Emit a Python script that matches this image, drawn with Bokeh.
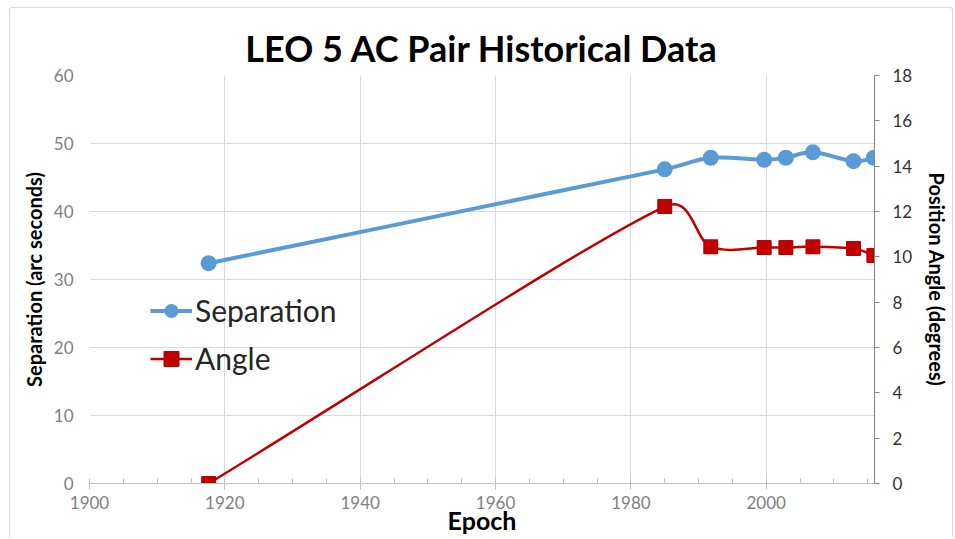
import math
from bokeh.plotting import figure
from bokeh.models import Range1d, LinearAxis, SingleIntervalTicker, Legend, LegendItem
from bokeh.embed import file_html
from bokeh.resources import INLINE

# ---- data ----
epoch = [1917.6, 1985.0, 1991.8, 1999.7, 2002.9, 2006.9, 2012.9, 2015.9]
separation = [32.4, 46.2, 47.9, 47.6, 47.9, 48.7, 47.4, 47.9]
angle = [0.0, 12.22, 10.45, 10.41, 10.41, 10.45, 10.37, 10.06]

x_start, x_end = 1900, 2016
sep_min, sep_max = 0, 60
ang_min, ang_max = 0, 18

FONT = "Lato"
FW, FH = 785, 408

p = figure(frame_width=FW, frame_height=FH,
           x_range=Range1d(x_start, x_end), y_range=Range1d(sep_min, sep_max),
           output_backend="svg", toolbar_location=None,
           min_border_left=79, min_border_right=71, min_border_top=67, min_border_bottom=50,
           title="LEO 5 AC Pair Historical Data")
p.extra_y_ranges = {"right": Range1d(ang_min, ang_max)}
p.styles = {"margin-left": "9px", "margin-top": "7px",
            "border-left": "1px solid #d9d9d9", "border-top": "1px solid #d9d9d9",
            "border-right": "1px solid #d9d9d9", "border-top-left-radius": "3px",
            "border-top-right-radius": "3px"}

p.title.align = "center"
p.title.text_font = FONT
p.title.text_font_size = "36px"
p.title.text_font_style = "bold"
p.title.text_color = "#000000"
p.title.standoff = 12

p.outline_line_color = None
p.background_fill_color = "white"
p.border_fill_color = "white"

# x axis
xt = SingleIntervalTicker(interval=20, num_minor_ticks=4)
xa = p.xaxis[0]
xa.ticker = xt
xa.axis_label = "Epoch"
xa.axis_label_text_font = FONT
xa.axis_label_text_font_size = "25px"
xa.axis_label_text_font_style = "bold"
xa.axis_label_text_color = "#000000"
xa.axis_label_standoff = -7
xa.major_label_text_font = FONT
xa.major_label_text_font_size = "17px"
xa.major_label_text_color = "#7f7f7f"
xa.major_label_standoff = 6
xa.axis_line_color = "#bfbfbf"
xa.major_tick_line_color = "#bfbfbf"
xa.minor_tick_line_color = "#bfbfbf"
xa.major_tick_in = 0
xa.major_tick_out = 6
xa.minor_tick_in = 5
xa.minor_tick_out = 0

# left axis
ya = p.yaxis[0]
ya.ticker = SingleIntervalTicker(interval=10)
ya.axis_label = "Separation (arc seconds)"
ya.axis_label_text_font = FONT
ya.axis_label_text_font_size = "20px"
ya.axis_label_text_font_style = "bold"
ya.axis_label_text_color = "#000000"
ya.axis_label_standoff = 5
ya.major_label_text_font = FONT
ya.major_label_text_font_size = "17px"
ya.major_label_text_color = "#7f7f7f"
ya.major_label_standoff = 12
ya.axis_line_color = None
ya.major_tick_line_color = None
ya.minor_tick_line_color = None
ya.major_tick_out = 0

# right axis
ra = LinearAxis(y_range_name="right", ticker=SingleIntervalTicker(interval=2))
ra.axis_label = "Position Angle (degrees)"
ra.axis_label_text_font = FONT
ra.axis_label_text_font_size = "20px"
ra.axis_label_text_font_style = "bold"
ra.axis_label_text_color = "#000000"
ra.axis_label_standoff = 10
ra.major_label_text_font = FONT
ra.major_label_text_font_size = "17px"
ra.major_label_text_color = "#333333"
ra.major_label_standoff = 13
ra.axis_line_color = "#868686"
ra.major_tick_line_color = "#868686"
ra.minor_tick_line_color = None
ra.major_tick_in = 0
ra.major_tick_out = 5
p.add_layout(ra, "right")

p.xgrid.ticker = xt
p.xgrid.grid_line_color = "#d9d9d9"
p.ygrid.grid_line_color = "#d9d9d9"


def smooth_segments(xs, ys, sx, sy):
    """Excel-like smoothed line: cubic Bezier segments computed in pixel space."""
    P = [((x - x_start) * sx, y * sy) for x, y in zip(xs, ys)]
    n = len(P)
    out = {k: [] for k in ("x0", "y0", "x1", "y1", "cx0", "cy0", "cx1", "cy1")}

    def d(a, b):
        return math.hypot(a[0] - b[0], a[1] - b[1])

    for i in range(n - 1):
        p1, p2 = P[i], P[i + 1]
        p0 = P[i - 1] if i > 0 else p1
        p3 = P[i + 2] if i + 2 < n else p2
        d12, d02, d13 = d(p1, p2), d(p0, p2), d(p1, p3)
        if i == 0:
            f1 = 1 / 3
        else:
            f1 = 1 / 6 if d02 / 6 < d12 / 2 else d12 / (2 * d02)
        if i + 2 >= n:
            f2 = 1 / 3
        else:
            f2 = 1 / 6 if d13 / 6 < d12 / 2 else d12 / (2 * d13)
        c1 = (p1[0] + f1 * (p2[0] - p0[0]), p1[1] + f1 * (p2[1] - p0[1]))
        c2 = (p2[0] - f2 * (p3[0] - p1[0]), p2[1] - f2 * (p3[1] - p1[1]))
        for key, pt in (("0", p1), ("1", p2)):
            out["x" + key].append(pt[0] / sx + x_start)
            out["y" + key].append(pt[1] / sy)
        out["cx0"].append(c1[0] / sx + x_start)
        out["cy0"].append(c1[1] / sy)
        out["cx1"].append(c2[0] / sx + x_start)
        out["cy1"].append(c2[1] / sy)
    return out


sx = FW / (x_end - x_start)
BLUE = "#5b9bd5"
RED = "#c00000"

sep_seg = smooth_segments(epoch, separation, sx, FH / (sep_max - sep_min))
ang_seg = smooth_segments(epoch, angle, sx, FH / (ang_max - ang_min))

ang_curve = p.bezier(**ang_seg, line_color=RED, line_width=2.5, y_range_name="right")
ang_pts = p.scatter(epoch, angle, marker="square", size=13, fill_color=RED, line_color=RED,
                    line_width=2, line_join="round", y_range_name="right")

sep_curve = p.bezier(**sep_seg, line_color=BLUE, line_width=4)
sep_pts = p.scatter(epoch, separation, marker="circle", size=16, fill_color=BLUE, line_color=None)

legend = Legend(items=[LegendItem(label="Separation", renderers=[sep_curve, sep_pts], index=0),
                       LegendItem(label="Angle", renderers=[ang_curve, ang_pts], index=0)],
                location=(61, 107))
legend.label_text_font = FONT
legend.label_text_font_size = "30px"
legend.label_text_color = "#262626"
legend.glyph_width = 42
legend.glyph_height = 35
legend.label_height = 35
legend.spacing = 12
legend.label_standoff = 3
legend.padding = 0
legend.margin = 0
legend.border_line_color = None
legend.background_fill_alpha = 0
p.add_layout(legend)

open("out.html", "w").write(file_html(p, INLINE))
